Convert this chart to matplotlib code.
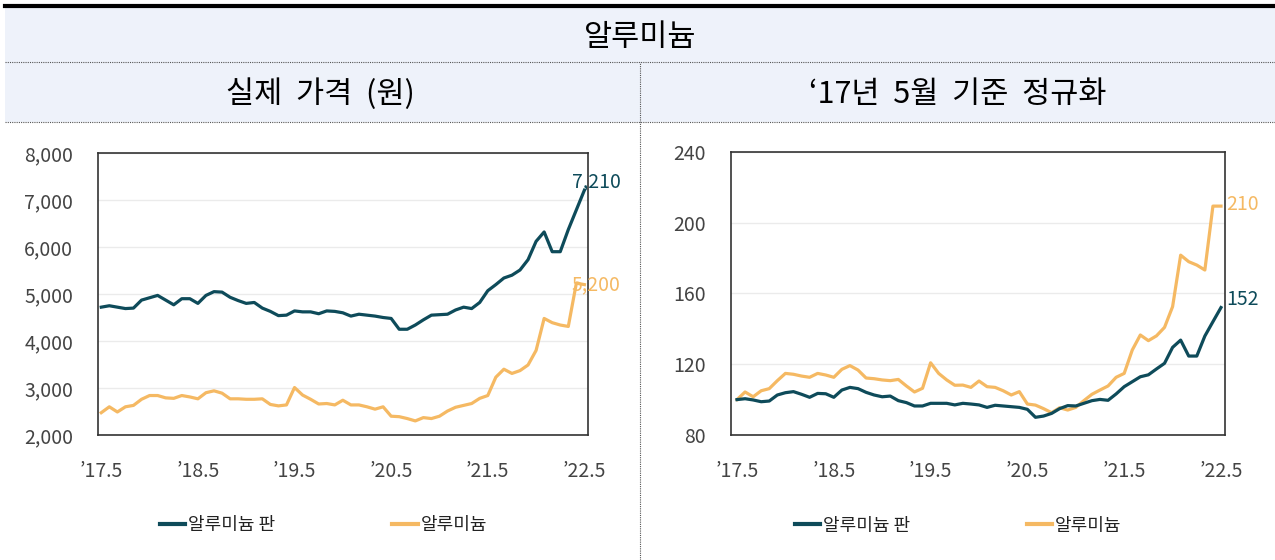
import matplotlib.pyplot as plt
from matplotlib.lines import Line2D
from matplotlib.patches import Rectangle

plt.rcParams["font.family"] = ["Noto Sans CJK KR", "DejaVu Sans"]

# monthly series, May 2017 .. May 2022 (61 points)
months = list(range(61))

plate_price = [
    4720, 4750, 4720, 4690, 4700, 4870, 4920, 4970, 4870, 4770,
    4900, 4900, 4800, 4970, 5050, 5040, 4930, 4860, 4800, 4820,
    4700, 4630, 4540, 4550, 4640, 4620, 4620, 4580, 4640, 4630,
    4600, 4530, 4570, 4550, 4530, 4500, 4480, 4250, 4250, 4340,
    4450, 4550, 4560, 4570, 4660, 4720, 4690, 4820, 5070, 5200,
    5340, 5400, 5510, 5730, 6120, 6320, 5900, 5900, 6370, 6790,
    7210,
]
ingot_price = [
    2475, 2600, 2490, 2600, 2630, 2760, 2840, 2840, 2790, 2780,
    2840, 2810, 2770, 2900, 2940, 2890, 2770, 2770, 2760, 2760,
    2770, 2650, 2620, 2640, 3010, 2850, 2760, 2660, 2670, 2640,
    2740, 2640, 2640, 2600, 2550, 2600, 2400, 2390, 2350, 2300,
    2370, 2350, 2400, 2510, 2590, 2630, 2670, 2780, 2840, 3230,
    3400, 3310, 3370, 3490, 3800, 4480, 4390, 4340, 4310, 5230,
    5200,
]

plate_index = [
    100.0, 100.5, 99.8, 98.8, 99.2, 102.6, 103.9, 104.5, 103.0, 101.3,
    103.5, 103.3, 101.3, 105.4, 106.9, 106.2, 104.1, 102.6, 101.6, 102.0,
    99.4, 98.3, 96.4, 96.4, 97.9, 97.9, 97.9, 97.0, 97.9, 97.5,
    97.0, 95.6, 96.8, 96.4, 96.0, 95.6, 94.5, 90.0, 90.7, 92.2,
    94.9, 96.6, 96.4, 97.9, 99.4, 100.1, 99.6, 103.2, 107.3, 110.1,
    112.9, 114.0, 117.3, 120.5, 129.5, 133.6, 124.6, 124.6, 135.9, 144.0,
    152.0,
]
ingot_index = [
    100.0, 104.3, 101.6, 105.0, 106.2, 110.7, 114.8, 114.3, 113.3, 112.6,
    114.8, 113.9, 112.6, 117.1, 119.2, 116.7, 112.2, 111.8, 111.1, 110.7,
    111.4, 107.7, 104.3, 106.4, 120.8, 114.8, 111.1, 108.1, 108.2, 106.9,
    110.5, 107.3, 106.9, 105.0, 102.6, 104.5, 97.5, 96.9, 94.9, 92.6,
    95.4, 94.1, 95.6, 99.4, 103.0, 105.4, 107.7, 112.6, 114.8, 128.0,
    136.5, 133.3, 136.0, 140.8, 152.5, 181.6, 177.9, 176.0, 173.2, 209.3,
    209.3,
]

tick_pos = [0, 12, 24, 36, 48, 60]
tick_labels = ["’17.5", "’18.5", "’19.5", "’20.5", "’21.5", "’22.5"]

series_names = ["알루미늄 판", "알루미늄"]

DARK = "#0e4b5a"
LIGHT = "#f5b963"
TXT = "#444444"

fig = plt.figure(figsize=(12.75, 5.6), dpi=100)

# header band
fig.patches.append(Rectangle((0.004, 0.782), 0.996, 0.208, transform=fig.transFigure,
                             facecolor="#eef2fa", edgecolor="none", zorder=0))
fig.add_artist(Line2D([0.004, 1.0], [0.990, 0.990], transform=fig.transFigure,
                      color="black", lw=3))
for yy in [0.889, 0.782]:
    fig.add_artist(Line2D([0.004, 1.0], [yy, yy], transform=fig.transFigure,
                          color="#555555", lw=0.8, ls=(0, (1, 1))))
fig.add_artist(Line2D([0.502, 0.502], [0.0, 0.889], transform=fig.transFigure,
                      color="#555555", lw=0.8, ls=(0, (1, 1))))

fig.text(0.502, 0.933, "알루미늄", ha="center", va="center", fontsize=22, color="black")
fig.text(0.251, 0.832, "실제  가격  (원)", ha="center", va="center", fontsize=22,
         color="black")
fig.text(0.751, 0.832, "‘17년  5월  기준  정규화", ha="center", va="center", fontsize=22,
         color="black")


def style_axes(ax, ylim, yticks, ylabels, xlim):
    ax.set_xlim(*xlim)
    ax.set_ylim(*ylim)
    ax.set_yticks(yticks)
    ax.set_yticklabels(ylabels)
    ax.set_xticks(tick_pos)
    ax.set_xticklabels(tick_labels)
    ax.tick_params(length=0, labelsize=14, colors=TXT)
    ax.tick_params(axis="y", pad=18)
    ax.tick_params(axis="x", pad=19)
    for lab in ax.get_xticklabels() + ax.get_yticklabels():
        lab.set_fontweight("light")
    ax.grid(axis="y", color="#ebebeb", lw=1)
    ax.set_axisbelow(True)
    for s in ax.spines.values():
        s.set_color("#333333")
        s.set_linewidth(1.2)


# left: actual prices
ax1 = fig.add_axes([0.0769, 0.2232, 0.3843, 0.5036])
ax1.plot(months, ingot_price, color=LIGHT, lw=2.3)
ax1.plot(months, plate_price, color=DARK, lw=2.3)
style_axes(ax1, (2000, 8000), range(2000, 8001, 1000),
           [f"{v:,}" for v in range(2000, 8001, 1000)], (-0.4, 60.45))
ax1.annotate(f"{plate_price[-1]:,}", (months[-1], plate_price[-1]), xytext=(-9, 6),
             textcoords="offset points", ha="left", va="center", fontsize=14, color=DARK)
ax1.annotate(f"{ingot_price[-1]:,}", (months[-1], ingot_price[-1]), xytext=(-9, 0),
             textcoords="offset points", ha="left", va="center", fontsize=14, color=LIGHT)

# right: normalised to May 2017 = 100
ax2 = fig.add_axes([0.5733, 0.2232, 0.3875, 0.5058])
ax2.plot(months, ingot_index, color=LIGHT, lw=2.3)
ax2.plot(months, plate_index, color=DARK, lw=2.3)
style_axes(ax2, (80, 240), range(80, 241, 40),
           [str(v) for v in range(80, 241, 40)], (-0.75, 60.5))
ax2.annotate("152", (months[-1], plate_index[-1]), xytext=(4, 6),
             textcoords="offset points", ha="left", va="center", fontsize=14, color=DARK)
ax2.annotate("210", (months[-1], ingot_index[-1]), xytext=(4, 1),
             textcoords="offset points", ha="left", va="center", fontsize=14, color=LIGHT)

handles = [Line2D([], [], color=DARK, lw=3), Line2D([], [], color=LIGHT, lw=3)]
for ax in (ax1, ax2):
    ax.legend(handles, series_names, loc="center", bbox_to_anchor=(0.46, -0.32),
              ncol=2, frameon=False, fontsize=13, handlelength=1.4,
              handletextpad=0.15, columnspacing=6.5, labelcolor="#222222")

fig.savefig("out.png", dpi=100)
